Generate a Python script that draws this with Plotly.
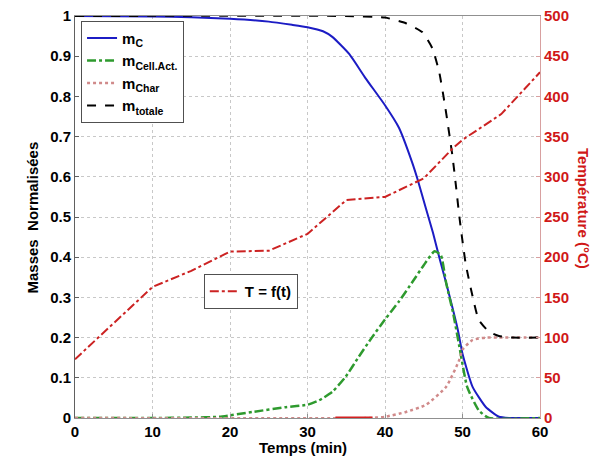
import plotly.graph_objects as go

# m_C
t_c = [0, 10, 15, 20, 25, 28, 30, 32, 33.2, 35.4, 37.5, 40, 41.8, 43.5, 44.2, 45.3,
       46.2, 47.0, 47.9, 49.4, 50.0, 51.3, 53.0, 54.7, 56, 60]
m_c = [1.0, 0.999, 0.997, 0.993, 0.986, 0.978, 0.972, 0.962, 0.948, 0.905, 0.845, 0.778,
       0.722, 0.636, 0.594, 0.52, 0.46, 0.40, 0.335, 0.219, 0.16, 0.0775, 0.0275, 0.003, 0.0, 0.0]

# m_Cell.Act.
t_cell = [0, 10, 15, 18.6, 22.9, 27.2, 30, 31.5, 33.2, 34.9, 36.6, 38.3, 40, 41.8,
          43.6, 45, 46.4, 47.2, 47.9, 48.8, 49.6, 50.6, 52.1, 53.4, 60]
m_cell = [0, 0, 0.001, 0.003, 0.015, 0.027, 0.033, 0.044, 0.065, 0.102, 0.152, 0.2,
          0.245, 0.29, 0.34, 0.38, 0.415, 0.405, 0.335, 0.26, 0.1775, 0.0775, 0.019, 0, 0]

# m_Char
t_char = [0, 38, 40, 42.7, 45.3, 47.9, 49.6, 50, 51.3, 53, 54.7, 60]
m_char = [0, 0, 0.003, 0.015, 0.033, 0.078, 0.145, 0.17, 0.194, 0.2, 0.2, 0.2]

# m_totale
t_tot = [0, 34.9, 40, 42.7, 44.8, 46.1, 47, 47.8, 48.7, 49.2, 49.6, 50.4, 51.3, 52.1,
         53.4, 54.7, 56.4, 60]
m_tot = [1, 1, 0.996, 0.982, 0.96, 0.92, 0.86, 0.77, 0.652, 0.57, 0.50, 0.385, 0.3025,
         0.244, 0.215, 0.204, 0.2, 0.2]

# T = f(t)
t_temp = [0, 10, 15, 20, 25, 30, 35, 40, 45, 48.7, 50, 55, 60]
temp = [73, 163, 183, 207, 208, 229, 271, 275, 298, 335, 346, 378, 430]

# trait rouge en bas
t_seg = [33.6, 38.4]
m_seg = [0, 0]

bold = dict(family="Liberation Sans", size=15, color="black", weight="bold")
red_bold = dict(family="Liberation Sans", size=15, color="#d01818", weight="bold")

fig = go.Figure()
fig.add_trace(go.Scatter(x=t_c, y=m_c, mode="lines", name="m<sub>C</sub>",
                         line=dict(color="#1c1cc4", width=2, shape="spline", smoothing=0.5)))
fig.add_trace(go.Scatter(x=t_cell, y=m_cell, mode="lines", name="m<sub>Cell.Act.</sub>",
                         line=dict(color="#2e9a2e", width=2.5, dash="dashdot",
                                   shape="spline", smoothing=0.5)))
fig.add_trace(go.Scatter(x=t_char, y=m_char, mode="lines", name="m<sub>Char</sub>",
                         line=dict(color="#d08a8a", width=2.5, dash="dot",
                                   shape="spline", smoothing=0.5)))
fig.add_trace(go.Scatter(x=t_tot, y=m_tot, mode="lines", name="m<sub>totale</sub>",
                         line=dict(color="black", width=2, dash="dash",
                                   shape="spline", smoothing=0.5)))
fig.add_trace(go.Scatter(x=t_seg, y=m_seg, mode="lines", showlegend=False,
                         line=dict(color="#d42020", width=3)))
fig.add_trace(go.Scatter(x=t_temp, y=temp, mode="lines", name="T = f(t)", yaxis="y2",
                         legend="legend2",
                         line=dict(color="#cc2222", width=2, dash="dashdot")))

# la page ajoute 8px de marge, on compense
fig.update_layout(
    width=596, height=458,
    margin=dict(l=67, r=64, t=8, b=48),
    plot_bgcolor="white", paper_bgcolor="white",
    font=bold,
    xaxis=dict(range=[0, 60], tickvals=[0, 10, 20, 30, 40, 50, 60], automargin=False,
               showgrid=True, gridcolor="#c8c8c8", griddash="dot",
               showline=True, linecolor="#909090", mirror=True,
               ticks="inside", ticklen=4, tickcolor="#909090",
               tickfont=bold, zeroline=False, ticklabeloverflow="allow"),
    yaxis=dict(range=[0, 1], tickvals=[i / 10 for i in range(11)], automargin=False,
               ticktext=["0", "0.1", "0.2", "0.3", "0.4", "0.5", "0.6", "0.7", "0.8", "0.9", "1"],
               showgrid=True, gridcolor="#c8c8c8", griddash="dot",
               showline=True, linecolor="#606060",
               ticks="inside", ticklen=4, tickcolor="#606060",
               tickfont=bold, zeroline=False, ticklabeloverflow="allow"),
    yaxis2=dict(range=[0, 500], tickvals=list(range(0, 501, 50)), overlaying="y",
                side="right", showgrid=False, showline=True, linecolor="#d8a0a0",
                ticks="inside", ticklen=4, tickcolor="#d8a0a0", automargin=False,
                tickfont=red_bold, zeroline=False, ticklabeloverflow="allow"),
    legend=dict(x=0.013, y=0.988, xanchor="left", yanchor="top",
                bgcolor="white", bordercolor="#505050", borderwidth=1,
                font=dict(family="Liberation Sans", size=15, color="black", weight="bold"),
                tracegroupgap=0, itemwidth=30),
    legend2=dict(x=0.277, y=0.358, xanchor="left", yanchor="top",
                 bgcolor="white", bordercolor="#505050", borderwidth=1,
                 font=dict(family="Liberation Sans", size=15, color="black", weight="bold")),
    annotations=[
        dict(text="Masses\u00a0 Normalisées", xref="paper", yref="paper", x=-0.114, y=0.5,
             textangle=-90, showarrow=False, font=bold),
        dict(text="Température (°C)", xref="paper", yref="paper", x=1.115, y=0.52,
             textangle=90, showarrow=False, font=red_bold),
        dict(text="Temps (min)", xref="paper", yref="paper", x=0.49, y=-0.1,
             showarrow=False, font=bold),
    ],
)

fig.write_html("out.html")
